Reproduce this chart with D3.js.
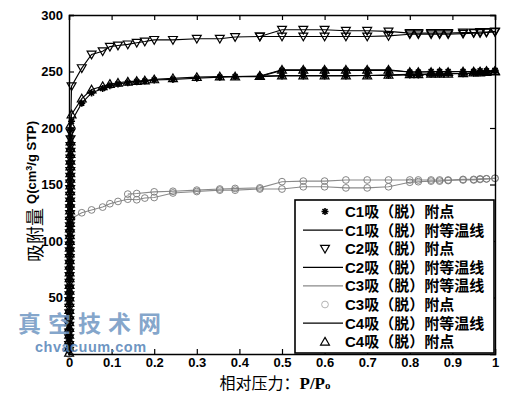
<!DOCTYPE html>
<html><head><meta charset="utf-8">
<script src="https://cdn.jsdelivr.net/npm/d3@7"></script>
<style>body{margin:0;background:#fff}svg{display:block}</style>
</head><body>
<svg id="chart" width="510" height="395"></svg>
<script>
// ---------- data ----------
const xTicks = [0,0.1,0.2,0.3,0.4,0.5,0.6,0.7,0.8,0.9,1];
const xTickLabels = ["0","0.1","0.2","0.3","0.4","0.5","0.6","0.7","0.8","0.9","1"];
const yTicks = [50,100,150,200,250,300];

const pressureAds = [0.006,0.03,0.053,0.079,0.096,0.115,0.138,0.159,0.178,0.2,0.244,0.3,0.354,0.39,0.448,0.5,0.55,0.6,0.65,0.7,0.75,0.8,0.82,0.85,0.87,0.89,0.925,0.95,0.965,0.98,1.0];
const c1Ads = [206,222,231,235,237.5,239,240,241,241.5,242.5,243,244,245,245.5,245.5,246,246,246,246,246.5,246.5,247,247,247.5,247.5,248,248,248.5,249,249.5,250.5];
const c2Ads = [237,253,265,268,272,273,274,275.5,276.5,278,278,279,279,280.5,281,281,281,281,281,281,281.5,283,283,283,283,283,283.5,284,284,284.5,285];
const c3Ads = [120,125,127.5,130,133,135,137,136.5,138,138.5,142.5,143.8,145,145,146,146,148,148,147,147,148,152,152.5,153,153,153.5,154,154,154.5,155,155.5];
const c4Ads = [212,226,234,237,239,240,241,241.5,242,243,244,245,245.5,245.5,246,246.5,246.5,246.5,246.5,246.5,247,247.5,247.5,248,248,248,248.5,249,249,249.5,250];

const pressureDes = [1.0,0.98,0.965,0.95,0.925,0.89,0.87,0.85,0.82,0.8,0.75,0.7,0.65,0.6,0.55,0.5,0.448];
const c1Des = [251,250.5,250.5,250,250,250,250,250,249.5,249.5,251,251,251,251,251,251,245.5];
const c2Des = [285.5,285,285,284.5,284.5,284,284,284,284,284,285.5,286,286,287,287,287,281];
const c4Des = [250.5,250.5,250,250,250,249.5,249.5,249.5,249.5,249.5,251.5,251.5,251.5,251.5,251.5,251.5,246];
const pressureDes3 = [1.0,0.98,0.965,0.95,0.925,0.89,0.87,0.85,0.82,0.8,0.75,0.7,0.65,0.6,0.55,0.5,0.448,0.39,0.354,0.3,0.244,0.2,0.159,0.138];
const c3Des = [155.5,155,155,154.5,154.5,154,154,154,154,154,154,154,154,153,153,152.5,147,146.5,146,145,144,143.5,142,141.5];

const lowPressure = [0.0002,0.0003,0.0004,0.0005,0.0006,0.0007,0.0008,0.0009,0.001,0.0011,0.0012,0.0013,0.0014,0.0015,0.0016,0.0017,0.0018,0.0019,0.002,0.0021,0.0022,0.0023,0.0024,0.0025,0.0026,0.0027,0.0028,0.0029,0.003,0.0031,0.0032,0.0033,0.0034,0.0035,0.0036,0.0037];
const c1Low = [5,11,16,22,27,33,38,44,49,55,60,66,71,77,82,88,93,99,104,110,115,121,126,132,137,143,148,154,159,165,170,176,181,187,192,198];
const c2Low = [3,8,14,19,25,30,36,41,47,52,58,63,69,74,80,85,91,96,102,107,113,118,124,129,135,140,146,151,157,162,168,173,179,184,190,196];
const c4Low = [1,6,12,17,23,28,34,39,45,50,56,61,67,72,78,83,89,94,100,105,111,116,122,127,133,138,144,149,155,160,166,171,177,182,188,203];
const c3Low = [0,4,9,13,18,22,27,31,36,40,45,49,54,58,63,67,72,76,81,85,90,94,99,103,108,111,113,115,116,117,118,118,119,119,119,120];

const legendLabels = ["C1吸（脱）附点","C1吸（脱）附等温线","C2吸（脱）附点","C2吸（脱）附等温线","C3吸（脱）附等温线","C3吸（脱）附点","C4吸（脱）附等温线","C4吸（脱）附点"];

// ---------- layout ----------
const svg = d3.select("#chart");
const x = d3.scaleLinear().domain([0,1]).range([69,495]);
const y = d3.scaleLinear().domain([0,300]).range([354,15]);
const tickFont = "'Liberation Sans', Arial, sans-serif";

const zip = (px, qs) => px.map((p,i)=>[p,qs[i]]);
const series = [
  {name:"C3", ads: zip(lowPressure,c3Low).concat(zip(pressureAds,c3Ads)), des: zip(pressureDes3,c3Des), marker:"circle", line:"#8a8a8a", mk:"#777"},
  {name:"C2", ads: zip(lowPressure,c2Low).concat(zip(pressureAds,c2Ads)), des: zip(pressureDes,c2Des), marker:"tridown", line:"#000", mk:"#000"},
  {name:"C4", ads: zip(lowPressure,c4Low).concat(zip(pressureAds,c4Ads)), des: zip(pressureDes,c4Des), marker:"triup", line:"#000", mk:"#000"},
  {name:"C1", ads: zip(lowPressure,c1Low).concat(zip(pressureAds,c1Ads)), des: zip(pressureDes,c1Des), marker:"star", line:"#000", mk:"#000"}
];

const line = d3.line().x(d=>x(d[0])).y(d=>y(d[1]));
const triUp = d3.symbol().type(d3.symbolTriangle).size(34)();
const circ = d3.symbol().type(d3.symbolCircle).size(36)();
const starPath = "M-3.5,0H3.5M0,-3.5V3.5M-2.5,-2.5L2.5,2.5M-2.5,2.5L2.5,-2.5";

function drawMarker(g, type, color){
  if(type==="circle") g.append("path").attr("d",circ).attr("fill","none").attr("stroke",color).attr("stroke-width",0.9);
  else if(type==="triup") g.append("path").attr("d",triUp).attr("transform","translate(0,0.8)").attr("fill","none").attr("stroke",color).attr("stroke-width",1.2);
  else if(type==="tridown") g.append("path").attr("d",triUp).attr("transform","translate(0,-0.8) rotate(180)").attr("fill","none").attr("stroke",color).attr("stroke-width",1.2);
  else g.append("path").attr("d",starPath).attr("fill","none").attr("stroke",color).attr("stroke-width",1.6);
}

const plot = svg.append("g");
series.forEach(s=>{
  plot.append("path").attr("d",line(s.ads)).attr("fill","none").attr("stroke",s.line).attr("stroke-width",1.1);
  plot.append("path").attr("d",line(s.des)).attr("fill","none").attr("stroke",s.line).attr("stroke-width",1.1);
  s.ads.concat(s.des).forEach(d=>{
    const g = plot.append("g").attr("transform",`translate(${x(d[0])},${y(d[1])})`);
    drawMarker(g, s.marker, s.mk);
  });
});

// ---------- axes ----------
const axB = svg.append("g").attr("transform","translate(0,354)")
  .call(d3.axisBottom(x).tickValues(xTicks).tickSize(-5).tickPadding(4).tickFormat((d,i)=>xTickLabels[i]));
const axT = svg.append("g").attr("transform","translate(0,15)")
  .call(d3.axisTop(x).tickValues(xTicks).tickSize(-5).tickFormat(""));
const axL = svg.append("g").attr("transform","translate(69,0)")
  .call(d3.axisLeft(y).tickValues(yTicks).tickSize(-5).tickPadding(6));
const axR = svg.append("g").attr("transform","translate(495,0)")
  .call(d3.axisRight(y).tickValues(yTicks).tickSize(-5).tickFormat(""));
[axB,axT,axL,axR].forEach(a=>{
  a.select(".domain").attr("stroke","#000").attr("stroke-width",1.4);
  a.selectAll(".tick line").attr("stroke","#000").attr("stroke-width",1.2);
  a.selectAll("text").attr("font-family",tickFont).attr("font-weight","bold").attr("font-size",13).attr("fill","#000");
});

// ---------- legend ----------
const lg = svg.append("g");
lg.append("rect").attr("x",295).attr("y",200).attr("width",199).attr("height",153)
  .attr("fill","#fff").attr("stroke","#000").attr("stroke-width",1.6);
const legendKinds = [["m","star","#000"],["l","#000"],["m","tridown","#000"],["l","#000"],["l","#8a8a8a"],["m","circle","#aaa"],["l","#000"],["m","triup","#000"]];
legendLabels.forEach((lab,i)=>{
  const cy = 211.5 + i*18.6;
  const k = legendKinds[i];
  if(k[0]==="l"){
    lg.append("line").attr("x1",303).attr("x2",343).attr("y1",cy).attr("y2",cy).attr("stroke",k[1]).attr("stroke-width",1.3);
  } else {
    const g = lg.append("g").attr("transform",`translate(325,${cy})`);
    drawMarker(g,k[1],k[2]);
  }
  lg.append("text").attr("x",345).attr("y",cy+5.5).text(lab)
    .attr("font-family","'Liberation Sans','Noto Sans CJK SC',sans-serif").attr("font-weight","bold").attr("font-size",15).attr("fill","#000");
});

// ---------- axis titles ----------
const xt = svg.append("text").attr("x",275).attr("y",389).attr("text-anchor","middle").attr("fill","#000");
xt.append("tspan").attr("font-family","'Noto Sans CJK SC',sans-serif").attr("font-size",16).text("相对压力：");
xt.append("tspan").attr("font-family","'Liberation Serif',serif").attr("font-weight","bold").attr("font-size",17).text("P/P");
xt.append("tspan").attr("font-family","'Liberation Serif',serif").attr("font-weight","bold").attr("font-size",11).text("o");

const yt = svg.append("text").attr("transform","translate(42,262) rotate(-90)").attr("fill","#000");
yt.append("tspan").attr("font-family","'Noto Sans CJK SC',sans-serif").attr("font-size",18).text("吸附量 ");
yt.append("tspan").attr("font-family",tickFont).attr("font-weight","bold").attr("font-size",13).attr("dy",-6).text("Q(cm");
yt.append("tspan").attr("font-family",tickFont).attr("font-weight","bold").attr("font-size",9).attr("dy",-4).text("3");
yt.append("tspan").attr("font-family",tickFont).attr("font-weight","bold").attr("font-size",13).attr("dy",4).text("/g STP)");

// ---------- watermark ----------
svg.append("text").attr("x",18).attr("y",332).text("真空技术网")
  .attr("font-family","'Noto Sans CJK SC',sans-serif").attr("font-weight","bold").attr("font-size",23)
  .attr("letter-spacing",7).attr("fill","#6f96c2").attr("fill-opacity",0.85);
svg.append("text").attr("x",35).attr("y",352.2).text("chvacuum.com")
  .attr("font-family",tickFont).attr("font-weight","bold").attr("font-size",14.5)
  .attr("letter-spacing",0.5).attr("fill","#5b88ba").attr("fill-opacity",0.9);
</script>
</body></html>
